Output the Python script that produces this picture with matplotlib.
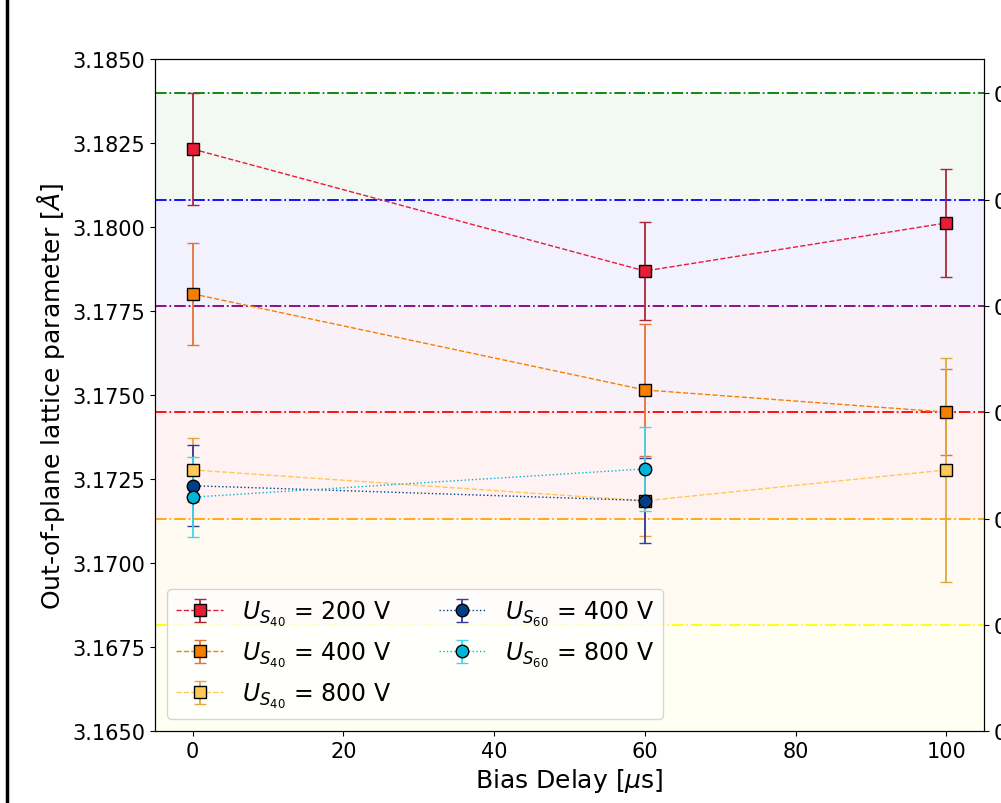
import numpy as np
import matplotlib.pyplot as plt
from matplotlib.lines import Line2D

# bias delay [us]
delay = [0, 60, 100]
delay_60 = [0, 60]

# out-of-plane lattice parameter [A] and errors
a_s40_200 = [3.18232, 3.17869, 3.18012]
e_s40_200 = [0.00168, 0.00145, 0.00160]
a_s40_400 = [3.17801, 3.17515, 3.17449]
e_s40_400 = [0.00152, 0.00196, 0.00129]
a_s40_800 = [3.17277, 3.17185, 3.17277]
e_s40_800 = [0.00095, 0.00104, 0.00333]
a_s60_400 = [3.17230, 3.17186]
e_s60_400 = [0.00120, 0.00127]
a_s60_800 = [3.17196, 3.17280]
e_s60_800 = [0.00120, 0.00125]

# reference levels and band colours
ref_levels = [3.18400, 3.18080, 3.17765, 3.17449, 3.17131, 3.16815]
ref_colors = ['green', 'blue', 'purple', 'red', 'orange', 'yellow']
right_labels = ['0.6', '0.5', '0.4', '0.3', '0.2', '0.1', '0.0']

fig = plt.figure(figsize=(10.01, 8.04), dpi=100)
ax = fig.add_axes([155 / 1001, 72 / 804, 829 / 1001, 672 / 804])

ymin, ymax = 3.1650, 3.1850
bounds = ref_levels + [ymin]
for i, c in enumerate(ref_colors):
    ax.axhspan(bounds[i + 1], bounds[i], color=c, alpha=0.05, lw=0, zorder=0)
    ax.axhline(ref_levels[i], color=c, ls='-.', lw=1.3, zorder=1)

series = [
    (delay, a_s40_200, e_s40_200, 's', '--', '#E71D36', '#A8283A', r'$U_{S_{40}}$ = 200 V'),
    (delay, a_s40_400, e_s40_400, 's', '--', '#F77F00', '#E8703A', r'$U_{S_{40}}$ = 400 V'),
    (delay, a_s40_800, e_s40_800, 's', '--', '#FFC857', '#E0A840', r'$U_{S_{40}}$ = 800 V'),
    (delay_60, a_s60_400, e_s60_400, 'o', ':', '#003F88', '#3A3A9A', r'$U_{S_{60}}$ = 400 V'),
    (delay_60, a_s60_800, e_s60_800, 'o', ':', '#00B4D8', '#40D8E8', r'$U_{S_{60}}$ = 800 V'),
]
for x, y, e, m, ls, c, ec, lab in series:
    ax.errorbar(x, y, yerr=e, fmt=m, ls=ls, lw=1, color=c, mfc=c, mec='black',
                ms=9, ecolor=ec, elinewidth=1.3, capsize=4, label=lab, zorder=3)

ax.set_xlim(-5, 105)
ax.set_ylim(ymin, ymax)
ax.set_yticks(np.arange(3.1650, 3.18501, 0.0025))
ax.yaxis.set_major_formatter(plt.FormatStrFormatter('%.4f'))
ax.tick_params(labelsize=15)
ax.set_xlabel(r'Bias Delay [$\mu$s]', fontsize=18)
ax.set_ylabel(r'Out-of-plane lattice parameter [$\AA$]', fontsize=18)
ax.legend(loc='lower left', ncol=2, fontsize=17)

ax2 = ax.twinx()
ax2.set_ylim(ymin, ymax)
ax2.set_yticks(ref_levels + [ymin])
ax2.set_yticklabels(right_labels)
ax2.tick_params(labelsize=15)

fig.add_artist(Line2D([0.007, 0.007], [0, 1], transform=fig.transFigure, color='black', lw=2.5))

fig.savefig('out.png', dpi=100)
